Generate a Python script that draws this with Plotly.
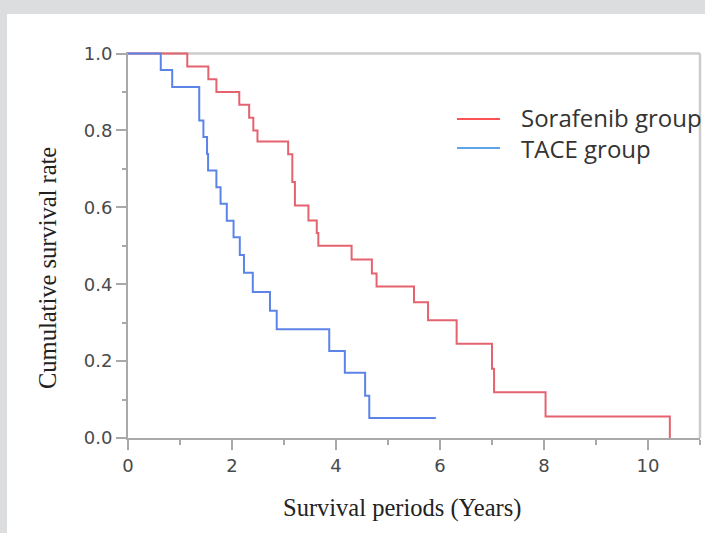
import plotly.graph_objects as go

# ---- data ----
sorafenib_t = [0, 1.14, 1.545, 1.70, 2.14, 2.33, 2.41, 2.49, 3.08, 3.16, 3.21, 3.47,
               3.63, 3.66, 4.30, 4.69, 4.78, 5.50, 5.77, 6.32, 7.00, 7.04, 8.03, 10.42, 10.42]
sorafenib_s = [1.0, 0.966, 0.933, 0.900, 0.867, 0.833, 0.800, 0.771, 0.738, 0.666, 0.605, 0.566,
               0.533, 0.500, 0.464, 0.428, 0.394, 0.353, 0.306, 0.245, 0.180, 0.119, 0.056, 0.056, 0.0]

tace_t = [0, 0.63, 0.85, 1.37, 1.45, 1.52, 1.54, 1.70, 1.78, 1.90, 2.03, 2.15, 2.23,
          2.40, 2.73, 2.86, 3.87, 4.17, 4.56, 4.64, 5.92]
tace_s = [1.0, 0.957, 0.913, 0.826, 0.783, 0.739, 0.696, 0.652, 0.609, 0.565, 0.522, 0.476, 0.430,
          0.380, 0.331, 0.283, 0.226, 0.170, 0.110, 0.052, 0.052]

series_names = ["Sorafenib group", "TACE group"]
x_ticks = [0, 2, 4, 6, 8, 10]
y_ticks = [0.0, 0.2, 0.4, 0.6, 0.8, 1.0]

fig = go.Figure()
fig.add_trace(go.Scatter(x=sorafenib_t, y=sorafenib_s, mode="lines", line_shape="hv",
                         line=dict(color="#e5636f", width=2), name=series_names[0],
                         showlegend=False))
fig.add_trace(go.Scatter(x=tace_t, y=tace_s, mode="lines", line_shape="hv",
                         line=dict(color="#5c84e8", width=2), name=series_names[1],
                         showlegend=False))

W, H = 705, 533
L, R, T, B = 128, 5, 52, 95
pw, ph = W - L - R, H - T - B
YMAX = 1.004

def px(x):
    return (x - L) / pw

def py(y):
    return (H - B - y) / ph

shapes = [
    # gray outer border (top and left strips)
    dict(type="rect", xref="paper", yref="paper", x0=px(0), x1=px(W), y0=py(14), y1=py(0),
         fillcolor="#dcdddf", line=dict(width=0), layer="below"),
    dict(type="rect", xref="paper", yref="paper", x0=px(0), x1=px(7), y0=py(H), y1=py(0),
         fillcolor="#dcdddf", line=dict(width=0), layer="below"),
    # top and right frame
    dict(type="line", xref="paper", yref="y", x0=0, x1=1, y0=1, y1=1,
         line=dict(color="#cccccc", width=2.5), layer="below"),
    dict(type="line", xref="paper", yref="y", x0=1, x1=1, y0=0, y1=1,
         line=dict(color="#cccccc", width=2.5), layer="below"),
    # legend lines
    dict(type="line", xref="paper", yref="paper", x0=px(457), x1=px(500), y0=py(119), y1=py(119),
         line=dict(color="#ff1a1a", width=1.5)),
    dict(type="line", xref="paper", yref="paper", x0=px(457), x1=px(500), y0=py(148), y1=py(148),
         line=dict(color="#2a86e0", width=1.5)),
]

annotations = [
    dict(text=series_names[0], xref="paper", yref="paper", x=px(519), y=py(117),
         xanchor="left", yanchor="middle", showarrow=False,
         font=dict(family="Open Sans", size=24, color="#333333")),
    dict(text=series_names[1], xref="paper", yref="paper", x=px(519), y=py(148),
         xanchor="left", yanchor="middle", showarrow=False,
         font=dict(family="Open Sans", size=24, color="#333333")),
    dict(text="Survival periods (Years)", xref="paper", yref="paper", x=px(402), y=py(508),
         xanchor="center", yanchor="middle", showarrow=False,
         font=dict(family="Liberation Serif", size=24.5, color="#222222")),
    dict(text="Cumulative survival rate", xref="paper", yref="paper", x=px(47), y=py(268),
         xanchor="center", yanchor="middle", showarrow=False, textangle=-90,
         font=dict(family="Liberation Serif", size=24.5, color="#222222")),
]

fig.update_layout(
    width=W, height=H,
    margin=dict(l=L, r=R, t=T, b=B, pad=0),
    paper_bgcolor="white", plot_bgcolor="white",
    shapes=shapes, annotations=annotations,
    showlegend=False,
)
fig.update_xaxes(range=[0, 11], tickvals=x_ticks, ticktext=[str(v) for v in x_ticks],
                 showgrid=False, zeroline=False, showline=True, linecolor="#a9a9a9", linewidth=2,
                 ticks="outside", ticklen=10, tickwidth=1.5, tickcolor="#a9a9a9",
                 minor=dict(dtick=1, ticks="outside", ticklen=5, tickcolor="#a9a9a9", tickwidth=1.5),
                 tickfont=dict(family="DejaVu Sans", size=18, color="#4a4a4a"))
fig.update_yaxes(range=[0, YMAX], tickvals=y_ticks, ticktext=[f"{v:.1f}" for v in y_ticks],
                 showgrid=False, zeroline=False, showline=True, linecolor="#a9a9a9", linewidth=2,
                 ticks="outside", ticklen=10, tickwidth=1.5, tickcolor="#a9a9a9",
                 minor=dict(dtick=0.1, ticks="outside", ticklen=4, tickcolor="#a9a9a9", tickwidth=1.5),
                 tickfont=dict(family="DejaVu Sans", size=18, color="#4a4a4a"))

fig.write_html("out.html",
               config={"displayModeBar": False},
               post_script="document.body.style.margin='0';document.body.style.padding='0';"
                           "document.documentElement.style.overflow='hidden';")
